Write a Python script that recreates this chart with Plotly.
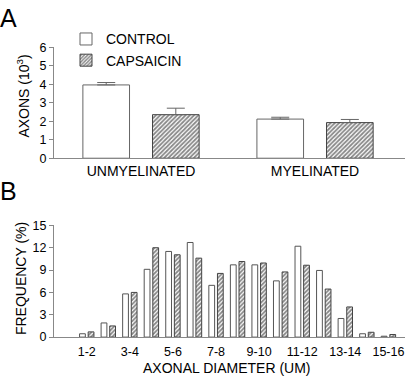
import plotly.graph_objects as go

# ---- Panel A data ----
groups = ["UNMYELINATED", "MYELINATED"]
control_axons = [3.97, 2.12]
control_err = [0.13, 0.10]
capsaicin_axons = [2.36, 1.93]
capsaicin_err = [0.35, 0.17]

# ---- Panel B data ----
diameter_bins = ["1-2", "2-3", "3-4", "4-5", "5-6", "6-7", "7-8", "8-9",
                 "9-10", "10-11", "11-12", "12-13", "13-14", "14-15", "15-16"]
control_freq = [0.45, 1.9, 5.8, 9.1, 11.5, 12.7, 6.95, 9.7,
                9.7, 7.55, 12.2, 8.95, 2.5, 0.45, 0.12]
capsaicin_freq = [0.7, 1.5, 6.0, 12.0, 11.05, 10.6, 8.55, 10.15,
                  9.95, 8.75, 9.65, 6.45, 4.05, 0.65, 0.35]
shown_ticks = ["1-2", "3-4", "5-6", "7-8", "9-10", "11-12", "13-14", "15-16"]

W, H = 407, 381
FONT = "Liberation Sans, Arial, sans-serif"
AXIS_GRAY = "#888888"

def px(x):
    return x / W

def py(y):
    return 1 - y / H

hatch = dict(shape="/", fgcolor="#111111", bgcolor="white", size=3, solidity=0.6)

fig = go.Figure()

fig.add_trace(go.Bar(
    x=groups, y=control_axons, name="CONTROL",
    marker=dict(color="white", line=dict(color="#666666", width=1)),
    error_y=dict(type="data", array=control_err, arrayminus=[0] * len(control_err),
                 symmetric=False, color="#666666", thickness=1, width=9),
    xaxis="x", yaxis="y", showlegend=True,
))
fig.add_trace(go.Bar(
    x=groups, y=capsaicin_axons, name="CAPSAICIN",
    marker=dict(color="white", pattern=hatch, line=dict(color="#444444", width=1)),
    error_y=dict(type="data", array=capsaicin_err, arrayminus=[0] * len(capsaicin_err),
                 symmetric=False, color="#666666", thickness=1, width=9),
    xaxis="x", yaxis="y", showlegend=True,
))

fig.add_trace(go.Bar(
    x=diameter_bins, y=control_freq, name="CONTROL",
    marker=dict(color="white", line=dict(color="#555555", width=1)),
    xaxis="x2", yaxis="y2", showlegend=False,
))
fig.add_trace(go.Bar(
    x=diameter_bins, y=capsaicin_freq, name="CAPSAICIN",
    marker=dict(color="white", pattern=hatch, line=dict(color="#444444", width=1)),
    xaxis="x2", yaxis="y2", showlegend=False,
))

x_dom = [px(54), px(405)]
common_y = dict(showline=True, linecolor=AXIS_GRAY, linewidth=1, ticks="outside",
                ticklen=4, tickcolor=AXIS_GRAY, showgrid=False, zeroline=False,
                tickfont=dict(size=12.5, color="black", family=FONT))
common_x = dict(showline=True, linecolor=AXIS_GRAY, linewidth=1, ticks="",
                showgrid=False, zeroline=False, type="category")

fig.update_layout(
    width=W, height=H,
    margin=dict(l=0, r=0, t=0, b=0),
    paper_bgcolor="white", plot_bgcolor="white",
    font=dict(family=FONT, color="black", size=14),
    barmode="group", bargap=0.2, bargroupgap=0.33,
    xaxis=dict(domain=x_dom, anchor="y", range=[-0.5, 1.517],
               tickfont=dict(size=14, color="black", family=FONT), **common_x),
    yaxis=dict(domain=[py(157), py(42)], anchor="x", range=[0, 6], dtick=1, **common_y),
    xaxis2=dict(domain=x_dom, anchor="y2", range=[-1.52, 14.77],
                tickmode="array", tickvals=shown_ticks, ticktext=shown_ticks,
                ticklabelstandoff=3,
                tickfont=dict(size=12.5, color="black", family=FONT), **common_x),
    yaxis2=dict(domain=[py(342.7), py(226.7)], anchor="x2", range=[0, 15], dtick=3, **common_y),
    legend=dict(x=px(66), y=py(17), xanchor="left", yanchor="top",
                bgcolor="rgba(0,0,0,0)", font=dict(size=14, color="black", family=FONT),
                tracegroupgap=0, itemwidth=30),
    annotations=[
        dict(text="A", x=px(8.5), y=py(11), xref="paper", yref="paper",
             xanchor="center", yanchor="middle", showarrow=False, font=dict(size=25)),
        dict(text="B", x=px(8.5), y=py(191), xref="paper", yref="paper",
             xanchor="center", yanchor="middle", showarrow=False, font=dict(size=25)),
        dict(text="AXONS (10<sup>3</sup>)", x=px(23), y=py(93), xref="paper", yref="paper",
             xanchor="center", yanchor="middle", textangle=-90, showarrow=False,
             font=dict(size=14)),
        dict(text="FREQUENCY (%)", x=px(21), y=py(282.5), xref="paper", yref="paper",
             xanchor="center", yanchor="middle", textangle=-90, showarrow=False,
             font=dict(size=14)),
        dict(text="AXONAL DIAMETER (UM)", x=px(227), y=py(375), xref="paper", yref="paper",
             xanchor="center", yanchor="middle", showarrow=False, font=dict(size=14)),
    ],
)

fig.write_html("out.html", config={"displayModeBar": False},
               post_script="document.body.style.margin='0';document.body.style.overflow='hidden';")
